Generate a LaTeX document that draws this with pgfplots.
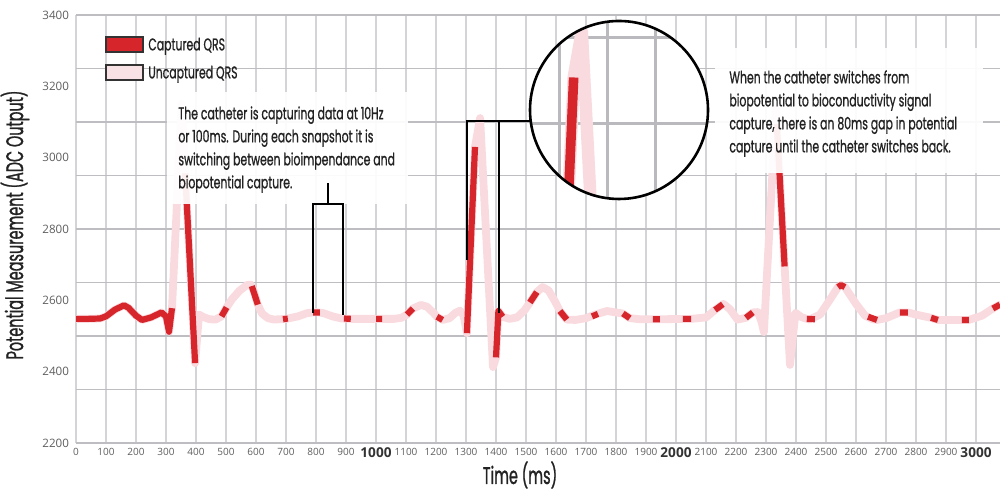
\documentclass[border=0pt]{standalone}
\usepackage{fontspec}
\usepackage{pgfplots}
\usepackage{pgfplotstable}
\pgfplotsset{compat=1.18}
\setmainfont{Open Sans}
\newfontfamily\cond[FakeStretch=0.64, FakeBold=0.8]{Poppins}
\newfontfamily\condl[FakeStretch=0.6, FakeBold=1.0]{Poppins}
\definecolor{capred}{HTML}{D6262C}
\definecolor{uncpink}{HTML}{F8DADF}
\definecolor{legpink}{HTML}{F9E2E5}
\definecolor{gridgray}{HTML}{D3D3D8}
\definecolor{ticklab}{HTML}{5E5E5E}
\definecolor{annot}{HTML}{222222}
\newcommand\bk[1]{{\fontsize{6.8}{7}\selectfont\bfseries\color{black!80}#1}}

% full biopotential signal (ms, ADC)
\pgfplotstableread{
ms val
0 2548
40 2548
80 2549
100 2555
130 2574
160 2586
175 2579
200 2557
220 2545
250 2552
285 2566
300 2555
310 2512
320 2578
352 3150
397 2424
410 2560
425 2553
445 2547
465 2546
485 2555
502 2580
520 2603
545 2627
570 2643
582 2644
592 2628
606 2588
620 2563
640 2550
660 2546
700 2548
740 2555
770 2564
800 2567
825 2564
855 2555
885 2549
920 2548
1000 2548
1060 2548
1085 2551
1103 2560
1123 2577
1150 2587
1170 2582
1190 2566
1205 2553
1222 2545
1245 2550
1265 2565
1280 2571
1292 2558
1303 2508
1330 3030
1347 3111
1390 2413
1400 2440
1408 2570
1422 2554
1445 2548
1470 2552
1495 2572
1513 2594
1536 2623
1555 2637
1575 2628
1598 2595
1613 2570
1636 2546
1665 2545
1700 2550
1730 2560
1770 2570
1800 2566
1823 2563
1846 2550
1880 2547
1950 2547
2050 2548
2100 2552
2130 2573
2158 2590
2180 2575
2205 2546
2233 2551
2256 2566
2273 2567
2285 2540
2293 2511
2333 3140
2380 2419
2398 2565
2420 2552
2445 2546
2480 2560
2510 2598
2540 2637
2550 2643
2563 2637
2600 2590
2630 2557
2655 2547
2670 2545
2700 2550
2746 2566
2773 2566
2800 2560
2850 2551
2873 2545
2953 2545
2976 2545
3020 2557
3056 2577
3080 2588
}\signal

% captured windows (nan = gap)
\pgfplotstableread{
ms val
0 2548
40 2548
80 2549
100 2555
130 2574
160 2586
175 2579
200 2557
220 2545
250 2552
285 2566
300 2555
310 2512
320 2578
nan nan
364 2956
397 2424
nan nan
485 2555
502 2580
nan nan
586 2640
606 2588
nan nan
690 2547
706 2549
nan nan
790 2566
813 2566
nan nan
893 2549
916 2548
nan nan
1000 2548
1020 2548
nan nan
1103 2560
1123 2577
nan nan
1203 2554
1222 2545
nan nan
1303 2508
1330 3030
nan nan
1400 2440
1408 2570
1422 2554
nan nan
1513 2594
1536 2623
nan nan
1613 2570
1636 2546
nan nan
1720 2555
1740 2562
nan nan
1823 2563
1846 2550
nan nan
1923 2547
1946 2547
nan nan
2023 2548
2050 2548
nan nan
2130 2573
2156 2589
nan nan
2233 2551
2256 2566
nan nan
2336 3094
2362 2695
nan nan
2436 2548
2463 2547
nan nan
2540 2637
2550 2643
2563 2637
nan nan
2640 2554
2670 2545
nan nan
2746 2566
2773 2566
nan nan
2850 2551
2873 2545
nan nan
2953 2545
2976 2545
nan nan
3056 2577
3080 2588
}\captured

\begin{document}
\begin{tikzpicture}[x=1pt,y=1pt]
\useasboundingbox (-38,-23.5) rectangle (462,221.5);
\begin{axis}[
  at={(0pt,0pt)}, anchor=south west,
  scale only axis, width=462pt, height=214pt,
  xmin=0, xmax=3080, ymin=2200, ymax=3400,
  axis line style={draw=none},
  tick style={draw=none},
  xtick={0,100,...,3000},
  xticklabels={0,100,200,300,400,500,600,700,800,900,\bk{1000},
    1100,1200,1300,1400,1500,1600,1700,1800,1900,\bk{2000},
    2100,2200,2300,2400,2500,2600,2700,2800,2900,\bk{3000}},
  ytick={2200,2400,...,3400},
  minor ytick={2200,2350,...,3400},
  xmajorgrids=true, ymajorgrids=false, yminorgrids=true,
  major grid style={gridgray, line width=0.9pt},
  minor grid style={gridgray!90!black, line width=0.9pt},
  /pgf/number format/assume math mode=true,
  /pgf/number format/set thousands separator={},
  xticklabel style={font=\fontsize{5}{6}\selectfont, text=ticklab, yshift=1pt},
  yticklabel style={font=\fontsize{5.8}{6}\selectfont, text=ticklab},
]
\addplot[uncpink, line width=3.9pt, line join=round, line cap=round] table[x=ms, y=val] {\signal};
\addplot[capred, line width=3.1pt, line join=round, line cap=butt, unbounded coords=jump] table[x=ms, y=val] {\captured};
\end{axis}

% axis titles
\node[rotate=90, font=\condl\fontsize{12}{14}\selectfont, text=annot] at (-30.5,109) {Potential Measurement (ADC Output)};
\node[font=\condl\fontsize{12}{14}\selectfont, text=annot] at (222,-16) {Time (ms)};

% legend
\draw[fill=capred, draw=black!80, line width=0.6pt] (15,195.5) rectangle (33.5,203);
\node[anchor=base west, inner sep=0pt, font=\cond\fontsize{8.5}{10}\selectfont, text=annot] at (36,196.3) {Captured QRS};
\draw[fill=legpink, draw=black!80, line width=0.6pt] (15,181.5) rectangle (33.5,189);
\node[anchor=base west, inner sep=0pt, font=\cond\fontsize{8.5}{10}\selectfont, text=annot] at (36,182.3) {Uncaptured QRS};

% annotation boxes
\fill[white, opacity=0.93] (45.5,119.5) rectangle (166,175.5);
\node[anchor=north west, inner sep=0pt, align=left, font=\cond\fontsize{8.5}{11.5}\selectfont, text=annot] at (51,168.5)
  {The catheter is capturing data at 10Hz\\or 100ms. During each snapshot it is\\switching between bioimpendance and\\biopotential capture.};
\fill[white, opacity=0.93] (319.5,135) rectangle (453.5,197.5);
\node[anchor=north west, inner sep=0pt, align=left, font=\cond\fontsize{8.5}{11.5}\selectfont, text=annot] at (326.5,186.5)
  {When the catheter switches from\\biopotential to bioconductivity signal\\capture, there is an 80ms gap in potential\\capture until the catheter switches back.};

% brackets
\draw[black, line width=0.7pt] (118.5,65) -- (118.5,119.5) -- (133.5,119.5) -- (133.5,64);
\draw[black, line width=0.7pt] (126,119.5) -- (126,130);
\draw[black, line width=0.7pt] (195.5,91.5) -- (195.5,161) -- (211.5,161) -- (211.5,65);
\draw[black, line width=0.7pt] (211.5,161) -- (227.3,161);

% magnifier
\fill[white] (271.5,166.5) circle (44.5);
\begin{scope}
\clip (271.5,166.5) circle (44.5);
\begin{axis}[
  at={(271.5pt,166.5pt)}, anchor=center,
  scale only axis, width=89pt, height=89pt,
  xmin=1239, xmax=1610, ymin=2817, ymax=3129,
  axis line style={draw=none}, tick style={draw=none},
  xtick={1300,1400,1500}, ytick={2950,3100},
  xticklabels={}, yticklabels={},
  grid=major, major grid style={gridgray!88!black, line width=1.4pt},
]
\addplot[uncpink, line width=6.2pt, line join=round] table[x=ms, y=val] {\signal};
\addplot[capred, line width=4.8pt, line join=round, line cap=butt, unbounded coords=jump] table[x=ms, y=val] {\captured};
\end{axis}
\end{scope}
\draw[black, line width=1.3pt] (271.5,166.5) circle (44.5);
\end{tikzpicture}
\end{document}
